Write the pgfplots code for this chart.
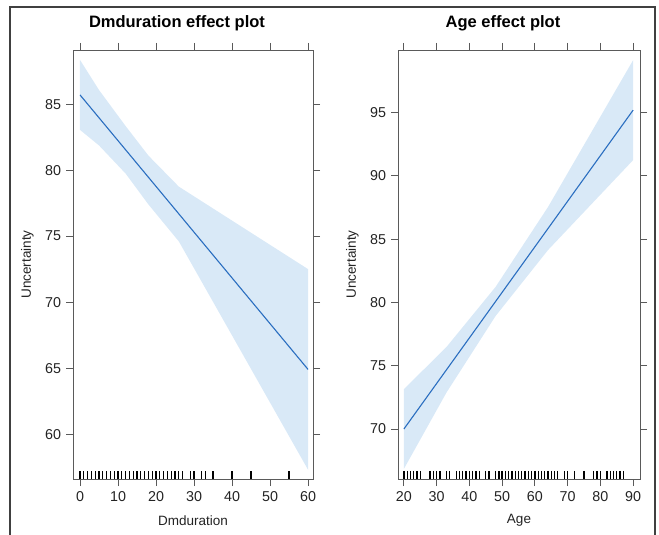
\documentclass[border=0pt]{standalone}
\usepackage{pgfplots}
\pgfplotsset{compat=1.18}
\usepackage{fontspec}
\setmainfont{Liberation Sans}
\definecolor{bandcol}{RGB}{217,233,247}
\definecolor{linecol}{RGB}{42,110,192}
\definecolor{boxcol}{RGB}{90,90,90}
\definecolor{txtcol}{RGB}{35,35,35}
\pgfplotsset{
  effstyle/.style={
    scale only axis, height=429pt,
    axis line style={boxcol, line width=0.9pt},
    tick style={boxcol, line width=0.9pt},
    major tick length=7pt,
    tick align=outside,
    tick pos=both,
    xticklabel pos=left, yticklabel pos=left,
    /pgf/number format/assume math mode=true,
    every tick label/.append style={font=\fontsize{14.3}{17}\selectfont, text=txtcol},
    yticklabel style={xshift=-1.5pt},
    xticklabel style={yshift=-1.5pt},
    every axis x label/.style={at={(axis description cs:0.5,0)}, yshift=-41.7pt, anchor=center, font=\fontsize{13.5}{16}\selectfont, text=txtcol},
    every axis y label/.style={at={(axis description cs:0,0.5)}, xshift=-45.5pt, rotate=90, anchor=center, font=\fontsize{13.5}{16}\selectfont, text=txtcol},
    every axis title/.style={at={(axis description cs:0.5,1)}, yshift=27pt, xshift=-16pt, anchor=center, font=\bfseries\fontsize{16.5}{20}\selectfont, text=black},
  }
}
\begin{document}
\begin{tikzpicture}
\useasboundingbox (0,0) rectangle (659pt,-535pt);
\draw[black!75, line width=1.4pt] (10pt,-7pt) rectangle (655pt,-560pt);

% Left panel: Dmduration
\begin{axis}[effstyle,
  at={(73pt,-479pt)}, anchor=south west, width=240pt,
  xmin=-1.84, xmax=61.3, ymin=56.6, ymax=89.1,
  xtick={0,10,20,30,40,50,60}, ytick={60,65,70,75,80,85},
  title={Dmduration effect plot}, xlabel={Dmduration}, ylabel={Uncertainty}]
\addplot[fill=bandcol, draw=none] coordinates {
  (0,88.35) (5,86.07) (12,83.34) (18,81.1) (26,78.75) (60,72.50)
  (60,57.30) (26,74.6) (18,77.4) (12,79.74) (5,81.87) (0,83.05)} -- cycle;
\addplot[linecol, line width=1.1pt] coordinates {(0,85.70) (60,64.90)};
\addplot[black, only marks, mark=|, mark size=4pt, mark options={line width=1.3pt}] coordinates {
  (0,56.9) (1,56.9) (2,56.9) (3,56.9) (4,56.9) (5,56.9) (6,56.9) (7,56.9) (8,56.9) (9,56.9)
  (10,56.9) (11,56.9) (12,56.9) (13,56.9) (14,56.9) (15,56.9) (16,56.9) (17,56.9) (18,56.9)
  (19,56.9) (20,56.9) (21,56.9) (22,56.9) (23,56.9) (24,56.9) (25,56.9) (26,56.9) (27,56.9)
  (29,56.9) (30,56.9) (32,56.9) (33,56.9) (35,56.9) (40,56.9) (45,56.9) (55,56.9)};
\end{axis}

% Right panel: Age
\begin{axis}[effstyle,
  at={(398pt,-479pt)}, anchor=south west, width=242pt,
  xmin=18.2, xmax=92.1, ymin=66.05, ymax=99.95,
  xtick={20,30,40,50,60,70,80,90}, ytick={70,75,80,85,90,95},
  title={Age effect plot}, xlabel={Age}, ylabel={Uncertainty}]
\addplot[fill=bandcol, draw=none] coordinates {
  (20,73.15) (33,76.48) (48,81.23) (64,87.54) (90,99.15)
  (90,91.25) (64,84.14) (48,78.93) (33,72.88) (20,66.85)} -- cycle;
\addplot[linecol, line width=1.1pt] coordinates {(20,70.0) (90,95.2)};
\addplot[black, only marks, mark=|, mark size=4pt, mark options={line width=1.3pt}] coordinates {
  (20,66.37) (21,66.37) (22,66.37) (23,66.37) (24,66.37) (25,66.37)
  (28,66.37) (29,66.37) (30,66.37) (31,66.37) (33,66.37) (34,66.37)
  (36,66.37) (37,66.37) (38,66.37) (39,66.37) (40,66.37) (41,66.37) (42,66.37) (43,66.37)
  (45,66.37) (46,66.37) (48,66.37) (49,66.37) (50,66.37) (51,66.37) (52,66.37) (53,66.37)
  (54,66.37) (55,66.37) (56,66.37) (57,66.37) (58,66.37) (59,66.37) (60,66.37) (61,66.37)
  (62,66.37) (63,66.37) (64,66.37) (65,66.37) (66,66.37) (67,66.37) (69,66.37) (70,66.37)
  (72,66.37) (75,66.37) (78,66.37) (79,66.37) (80,66.37) (82,66.37) (83,66.37) (84,66.37)
  (85,66.37) (86,66.37) (87,66.37)};
\end{axis}
\end{tikzpicture}
\end{document}
